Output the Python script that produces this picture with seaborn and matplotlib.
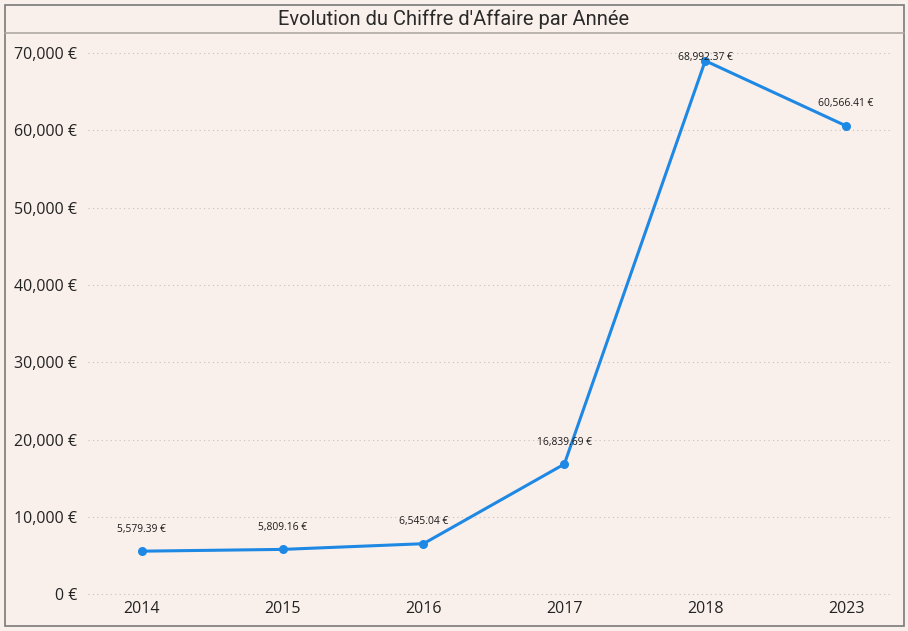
import matplotlib
matplotlib.use("Agg")
import matplotlib.pyplot as plt
import seaborn as sns
import pandas as pd
from matplotlib.ticker import FuncFormatter
from matplotlib.lines import Line2D
from matplotlib.patches import Rectangle

annees = ["2014", "2015", "2016", "2017", "2018", "2023"]
chiffre_affaire = [5579.39, 5809.16, 6545.04, 16839.69, 68992.37, 60566.41]

bg = "#FAF0EB"
bleu = "#1E88E5"

sns.set_theme(style="white")
plt.rcParams["font.family"] = ["Open Sans", "DejaVu Sans"]

df = pd.DataFrame({"annee": annees, "ca": chiffre_affaire})

fig = plt.figure(figsize=(9.08, 6.31), dpi=100, facecolor=bg)
ax = fig.add_axes([0.097, 0.052, 0.883, 0.891])
ax.set_facecolor(bg)

x = list(range(len(df)))
sns.lineplot(x=x, y=df["ca"], ax=ax, color=bleu, linewidth=2.2,
             marker="o", markersize=6.5, markeredgewidth=0, markeredgecolor=bleu)

for xi, v in zip(x, df["ca"]):
    ty = min(v + 2850, 69480)
    ax.text(xi, ty, f"{v:,.2f} €", ha="center", va="center", fontsize=7.4, color="#1a1a1a")

ax.set_xlim(-0.38, 5.31)
ax.set_ylim(-500, 72200)
ax.set_xticks(x)
ax.set_xticklabels(df["annee"])
ax.set_yticks(range(0, 70001, 10000))
ax.yaxis.set_major_formatter(FuncFormatter(lambda v, p: f"{int(v):,} €"))
ax.tick_params(axis="x", labelsize=11.5, colors="#222222", pad=2, length=0)
ax.tick_params(axis="y", labelsize=11.5, colors="#222222", pad=8, length=0)
ax.yaxis.grid(True, linestyle=(0, (1, 3)), color="#c8c0bb", linewidth=0.8)
ax.xaxis.grid(False)
for s in ax.spines.values():
    s.set_visible(False)
ax.set_xlabel("")
ax.set_ylabel("")

# cadre et bandeau titre
fig.patches.append(Rectangle((5 / 908, 5 / 631), 899 / 908, 621 / 631, transform=fig.transFigure,
                             fill=False, edgecolor="#7a7a7a", linewidth=1.2))
fig.lines.append(Line2D([5 / 908, 904 / 908], [1 - 33 / 631, 1 - 33 / 631], transform=fig.transFigure,
                        color="#b0a8a3", linewidth=1.2))
fig.text(0.5, 1 - 19 / 631, "Evolution du Chiffre d'Affaire par Année", ha="center", va="center",
         fontsize=14.5, color="#2a2a2a", family=["Roboto", "DejaVu Sans"])

fig.savefig("out.png", dpi=100, facecolor=bg)
